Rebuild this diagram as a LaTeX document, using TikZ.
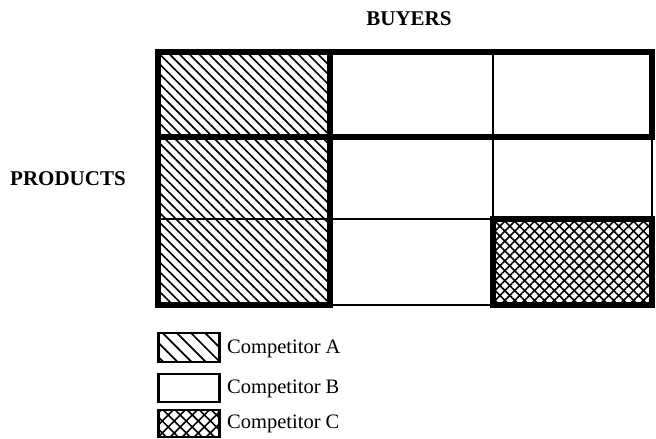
\documentclass[tikz,border=0pt]{standalone}
\usepackage{fontspec}
\setmainfont{Liberation Serif}
\usetikzlibrary{patterns.meta}
\begin{document}
\begin{tikzpicture}[x=1pt,y=-1pt,
  thin grid/.style={line width=1.8pt},
  thick grid/.style={line width=5.5pt,line join=miter},
  hatchA/.style={pattern={Lines[angle=-45,distance=7pt,line width=1.6pt]}},
  hatchC1/.style={pattern={Lines[angle=-45,distance=7pt,line width=1.6pt]}},
  hatchC2/.style={pattern={Lines[angle=45,distance=7pt,line width=1.6pt]}},
  legA/.style={pattern={Lines[angle=-45,distance=10pt,line width=1.7pt]}},
  legC1/.style={pattern={Lines[angle=-45,distance=8.5pt,line width=1.6pt]}},
  legC2/.style={pattern={Lines[angle=45,distance=8.5pt,line width=1.6pt]}},
  legbox/.style={draw,line width=2.4pt},
  heading/.style={font=\fontsize{21}{24}\selectfont\bfseries},
  legtext/.style={font=\fontsize{20.5}{24}\selectfont,anchor=west,inner sep=0pt}]
\useasboundingbox (0,0) rectangle (656,439);
% fills
\fill[hatchA] (158,52) rectangle (330,305);
\fill[hatchC1] (493,219) rectangle (652,305);
\fill[hatchC2] (493,219) rectangle (652,305);
% thin grid
\draw[thin grid] (158,52) rectangle (652,305);
\draw[thin grid] (330,52) -- (330,305);
\draw[thin grid] (493,52) -- (493,305);
\draw[thin grid] (158,137) -- (652,137);
\draw[thin grid] (158,219) -- (652,219);
% thick outlines
\draw[thick grid] (158,52) rectangle (652,137);
\draw[thick grid] (158,52) rectangle (330,305);
\draw[thick grid] (493,219) rectangle (652,305);
% headings
\node[heading] (buyers) at (409,19) {BUYERS};
\node[heading] (products) at (68,179) {PRODUCTS};
% legend
\filldraw[legbox,legA] (158.5,333) rectangle (219.5,362);
\draw[legbox] (158.5,374) rectangle (219.5,402);
\fill[legC1] (158.5,410) rectangle (219.5,437);
\filldraw[legbox,legC2] (158.5,410) rectangle (219.5,437);
\node[legtext] (la) at (227,349) {Competitor A};
\node[legtext] (lb) at (227,389) {Competitor B};
\node[legtext] (lc) at (227,424) {Competitor C};
\end{tikzpicture}
\end{document}
